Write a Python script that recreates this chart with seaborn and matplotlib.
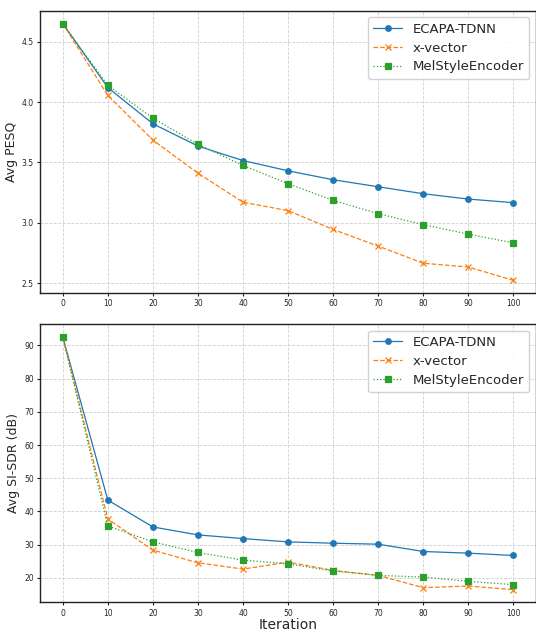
import pandas as pd
import matplotlib
matplotlib.use("Agg")
import matplotlib.pyplot as plt
import seaborn as sns

iterations = [0, 10, 20, 30, 40, 50, 60, 70, 80, 90, 100]
models = ["ECAPA-TDNN", "x-vector", "MelStyleEncoder"]

pesq_ecapa = [4.65, 4.12, 3.82, 3.635, 3.515, 3.43, 3.356, 3.298, 3.24, 3.196, 3.166]
pesq_xvector = [4.65, 4.055, 3.685, 3.41, 3.17, 3.10, 2.944, 2.806, 2.664, 2.633, 2.522]
pesq_mel = [4.65, 4.138, 3.867, 3.649, 3.475, 3.323, 3.185, 3.075, 2.984, 2.905, 2.833]

sdr_ecapa = [92.6, 43.4, 35.3, 32.9, 31.8, 30.8, 30.4, 30.1, 27.9, 27.4, 26.7]
sdr_xvector = [92.6, 37.7, 28.3, 24.5, 22.6, 24.7, 22.2, 20.7, 17.0, 17.5, 16.4]
sdr_mel = [92.6, 35.6, 30.8, 27.6, 25.3, 24.2, 22.0, 20.7, 20.2, 18.9, 17.9]

sns.set_style("whitegrid", {
    "grid.linestyle": "--",
    "grid.color": "#d0d0d0",
    "axes.edgecolor": "#222222",
    "xtick.bottom": True,
    "ytick.left": True,
})
plt.rcParams["font.family"] = ["DejaVu Sans"]

styles = {
    "ECAPA-TDNN": dict(color="#1f77b4", marker="o", linestyle="-"),
    "x-vector": dict(color="#ff7f0e", marker="x", linestyle="--"),
    "MelStyleEncoder": dict(color="#2ca02c", marker="s", linestyle=":"),
}


def draw(ax, series, ylabel):
    for name, vals in zip(models, series):
        df = pd.DataFrame({"Iteration": iterations, "value": vals})
        st = styles[name]
        sns.lineplot(data=df, x="Iteration", y="value", ax=ax, label=name,
                     color=st["color"], marker=st["marker"], linestyle=st["linestyle"],
                     markersize=4, linewidth=0.9, markeredgewidth=0.9,
                     markeredgecolor=st["color"])
    ax.set_ylabel(ylabel, fontsize=9, labelpad=3)
    ax.set_xticks(iterations)
    ax.tick_params(axis="both", labelsize=5.5, length=2.5, pad=2, color="#222222")
    ax.grid(linewidth=0.6)
    for sp in ax.spines.values():
        sp.set_linewidth(1.0)
    ax.legend(loc="upper right", fontsize=9.5, frameon=True, framealpha=0.9,
              handlelength=2.2, borderpad=0.4, labelspacing=0.45)


fig = plt.figure(figsize=(5.36, 6.32), dpi=100)
ax1 = fig.add_axes([0.075, 0.536, 0.925, 0.447])
ax2 = fig.add_axes([0.075, 0.047, 0.925, 0.440])

draw(ax1, [pesq_ecapa, pesq_xvector, pesq_mel], "Avg PESQ")
ax1.set_xlabel("")
draw(ax2, [sdr_ecapa, sdr_xvector, sdr_mel], "Avg SI-SDR (dB)")
ax2.set_xlabel("Iteration", fontsize=10, labelpad=0)

fig.savefig("out.png", dpi=100)
